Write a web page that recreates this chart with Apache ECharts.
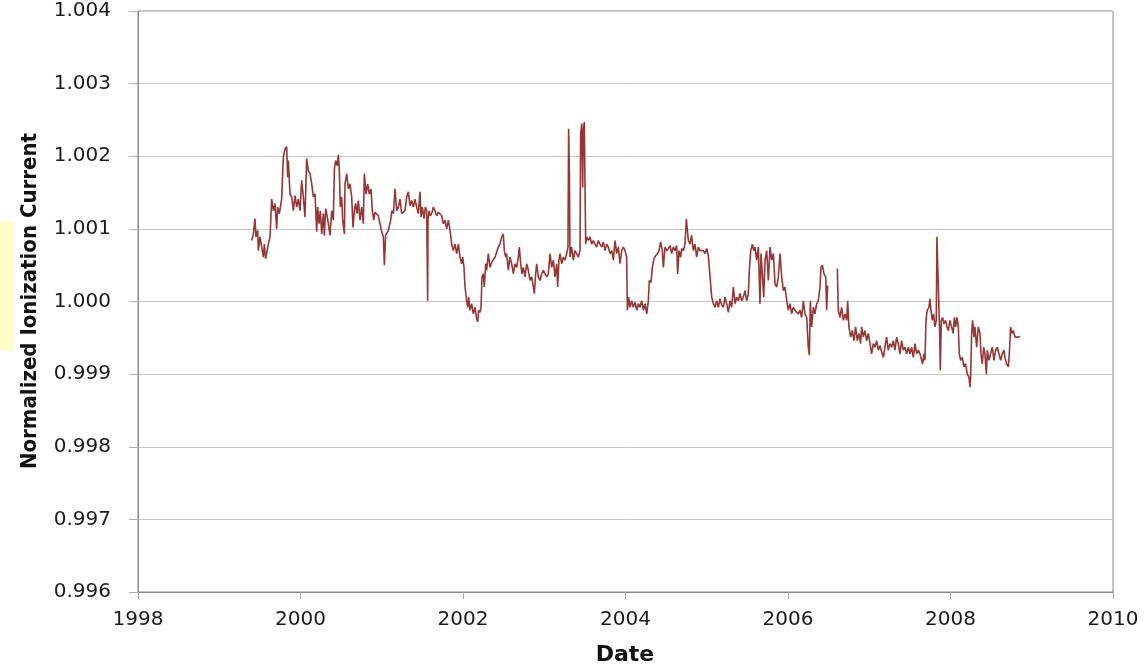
<!DOCTYPE html>
<html>
<head>
<meta charset="utf-8">
<script src="https://cdn.jsdelivr.net/npm/echarts@6/dist/echarts.min.js"></script>
<style>
  html, body { margin: 0; padding: 0; background: #ffffff; }
  #chart { width: 1146px; height: 667px; }
</style>
</head>
<body>
<div id="chart"></div>
<script>
// Normalized ionization current readings, [decimal year, normalized current]
const readings1999 = [
  [1999.399, 1.00084], [1999.420, 1.00093], [1999.440, 1.00114], [1999.452, 1.00089], [1999.473, 1.00098],
  [1999.481, 1.00070], [1999.502, 1.00089], [1999.522, 1.00075], [1999.543, 1.00061], [1999.555, 1.00079],
  [1999.571, 1.00059], [1999.588, 1.00057], [1999.604, 1.00079], [1999.625, 1.00089], [1999.645, 1.00141],
  [1999.666, 1.00125], [1999.686, 1.00135], [1999.707, 1.00100], [1999.719, 1.00130], [1999.740, 1.00121],
  [1999.768, 1.00141], [1999.789, 1.00199], [1999.809, 1.00210], [1999.830, 1.00213], [1999.842, 1.00171],
  [1999.850, 1.00194], [1999.871, 1.00148], [1999.891, 1.00144], [1999.912, 1.00125], [1999.932, 1.00146],
  [1999.953, 1.00130], [1999.973, 1.00141], [1999.994, 1.00125]
];
const readings2000 = [
  [2000.014, 1.00167], [2000.035, 1.00144], [2000.055, 1.00116], [2000.076, 1.00197], [2000.096, 1.00180],
  [2000.117, 1.00176], [2000.138, 1.00162], [2000.158, 1.00144], [2000.179, 1.00148], [2000.199, 1.00096],
  [2000.211, 1.00130], [2000.228, 1.00107], [2000.244, 1.00125], [2000.261, 1.00093], [2000.281, 1.00121],
  [2000.293, 1.00091], [2000.310, 1.00128], [2000.330, 1.00116], [2000.343, 1.00107], [2000.363, 1.00091],
  [2000.384, 1.00125], [2000.404, 1.00112], [2000.417, 1.00183], [2000.433, 1.00194], [2000.453, 1.00187],
  [2000.466, 1.00202], [2000.478, 1.00180], [2000.490, 1.00130], [2000.507, 1.00144], [2000.519, 1.00112],
  [2000.540, 1.00093], [2000.548, 1.00162], [2000.568, 1.00176], [2000.589, 1.00155], [2000.609, 1.00162],
  [2000.630, 1.00144], [2000.646, 1.00102], [2000.663, 1.00125], [2000.679, 1.00135], [2000.695, 1.00121],
  [2000.712, 1.00139], [2000.732, 1.00112], [2000.753, 1.00130], [2000.773, 1.00107], [2000.786, 1.00176],
  [2000.806, 1.00148], [2000.827, 1.00162], [2000.847, 1.00148], [2000.868, 1.00155], [2000.884, 1.00125],
  [2000.901, 1.00112], [2000.917, 1.00123], [2000.938, 1.00121], [2000.958, 1.00118], [2000.979, 1.00107],
  [2000.999, 1.00096]
];
const readings2001 = [
  [2001.020, 1.00089], [2001.032, 1.00050], [2001.048, 1.00091], [2001.081, 1.00098], [2001.110, 1.00112],
  [2001.122, 1.00125], [2001.143, 1.00121], [2001.163, 1.00155], [2001.184, 1.00125], [2001.204, 1.00130],
  [2001.225, 1.00141], [2001.245, 1.00121], [2001.266, 1.00123], [2001.286, 1.00125], [2001.307, 1.00144],
  [2001.327, 1.00151], [2001.348, 1.00132], [2001.368, 1.00139], [2001.389, 1.00130], [2001.409, 1.00141],
  [2001.430, 1.00130], [2001.450, 1.00121], [2001.471, 1.00151], [2001.483, 1.00116], [2001.500, 1.00130],
  [2001.520, 1.00114], [2001.537, 1.00130], [2001.553, 1.00125], [2001.565, 1.00001], [2001.569, 1.00112],
  [2001.582, 1.00125], [2001.598, 1.00118], [2001.614, 1.00121], [2001.635, 1.00130], [2001.655, 1.00125],
  [2001.676, 1.00118], [2001.697, 1.00123], [2001.717, 1.00121], [2001.738, 1.00118], [2001.758, 1.00107],
  [2001.779, 1.00112], [2001.799, 1.00100], [2001.820, 1.00112], [2001.840, 1.00098], [2001.861, 1.00079],
  [2001.881, 1.00070], [2001.902, 1.00079], [2001.922, 1.00066], [2001.943, 1.00079], [2001.963, 1.00061],
  [2001.984, 1.00052], [2001.996, 1.00061]
];
const readings2002 = [
  [2002.012, 1.00047], [2002.025, 1.00020], [2002.045, 1.00001], [2002.058, 0.99992], [2002.070, 1.00006],
  [2002.086, 0.99988], [2002.107, 0.99997], [2002.127, 0.99983], [2002.148, 0.99992], [2002.168, 0.99976],
  [2002.181, 0.99972], [2002.193, 0.99988], [2002.209, 0.99985], [2002.222, 0.99992], [2002.234, 1.00034],
  [2002.250, 1.00038], [2002.263, 1.00020], [2002.279, 1.00052], [2002.291, 1.00043], [2002.312, 1.00066],
  [2002.332, 1.00047], [2002.353, 1.00054], [2002.373, 1.00052], [2002.394, 1.00061], [2002.414, 1.00059],
  [2002.435, 1.00075], [2002.455, 1.00079], [2002.476, 1.00089], [2002.496, 1.00093], [2002.509, 1.00070],
  [2002.525, 1.00061], [2002.537, 1.00066], [2002.558, 1.00043], [2002.578, 1.00061], [2002.599, 1.00052],
  [2002.620, 1.00038], [2002.640, 1.00052], [2002.661, 1.00047], [2002.681, 1.00061], [2002.693, 1.00075],
  [2002.710, 1.00052], [2002.726, 1.00038], [2002.743, 1.00047], [2002.763, 1.00034], [2002.784, 1.00052],
  [2002.804, 1.00043], [2002.825, 1.00029], [2002.845, 1.00034], [2002.866, 1.00020], [2002.878, 1.00011],
  [2002.894, 1.00038], [2002.907, 1.00052], [2002.927, 1.00034], [2002.948, 1.00029], [2002.968, 1.00038],
  [2002.989, 1.00043]
];
const readings2003 = [
  [2003.009, 1.00038], [2003.030, 1.00034], [2003.050, 1.00038], [2003.071, 1.00066], [2003.091, 1.00047],
  [2003.112, 1.00057], [2003.132, 1.00034], [2003.153, 1.00052], [2003.165, 1.00020], [2003.181, 1.00057],
  [2003.194, 1.00066], [2003.214, 1.00052], [2003.235, 1.00061], [2003.255, 1.00057], [2003.276, 1.00066],
  [2003.292, 1.00075], [2003.300, 1.00238], [2003.309, 1.00180], [2003.317, 1.00061], [2003.337, 1.00075],
  [2003.358, 1.00057], [2003.378, 1.00070], [2003.399, 1.00066], [2003.419, 1.00061], [2003.440, 1.00070],
  [2003.448, 1.00231], [2003.461, 1.00245], [2003.473, 1.00157], [2003.481, 1.00236], [2003.493, 1.00247],
  [2003.510, 1.00079], [2003.522, 1.00089], [2003.543, 1.00084], [2003.563, 1.00089], [2003.584, 1.00079],
  [2003.604, 1.00084], [2003.625, 1.00079], [2003.645, 1.00075], [2003.666, 1.00084], [2003.686, 1.00079],
  [2003.707, 1.00075], [2003.727, 1.00082], [2003.748, 1.00070], [2003.768, 1.00079], [2003.789, 1.00075],
  [2003.809, 1.00066], [2003.830, 1.00070], [2003.850, 1.00057], [2003.871, 1.00084], [2003.891, 1.00066],
  [2003.912, 1.00075], [2003.932, 1.00052], [2003.953, 1.00070], [2003.973, 1.00075], [2003.994, 1.00070]
];
const readings2004 = [
  [2004.014, 1.00061], [2004.023, 0.99988], [2004.039, 1.00006], [2004.055, 0.99992], [2004.076, 1.00001],
  [2004.096, 0.99992], [2004.117, 0.99999], [2004.138, 0.99988], [2004.158, 0.99997], [2004.179, 0.99992],
  [2004.199, 1.00001], [2004.220, 0.99988], [2004.240, 0.99997], [2004.261, 0.99983], [2004.281, 1.00001],
  [2004.293, 1.00029], [2004.314, 1.00026], [2004.330, 1.00047], [2004.351, 1.00059], [2004.371, 1.00063],
  [2004.396, 1.00066], [2004.412, 1.00070], [2004.433, 1.00082], [2004.453, 1.00070], [2004.466, 1.00047],
  [2004.486, 1.00075], [2004.507, 1.00070], [2004.527, 1.00073], [2004.548, 1.00077], [2004.568, 1.00066],
  [2004.589, 1.00075], [2004.609, 1.00070], [2004.630, 1.00077], [2004.642, 1.00038], [2004.659, 1.00070],
  [2004.679, 1.00061], [2004.691, 1.00073], [2004.712, 1.00070], [2004.732, 1.00079], [2004.749, 1.00114],
  [2004.761, 1.00116], [2004.773, 1.00084], [2004.794, 1.00079], [2004.814, 1.00091], [2004.835, 1.00070],
  [2004.855, 1.00079], [2004.876, 1.00061], [2004.896, 1.00075], [2004.917, 1.00070], [2004.938, 1.00068],
  [2004.958, 1.00070], [2004.979, 1.00066], [2004.999, 1.00073]
];
const readings2005 = [
  [2005.020, 1.00063], [2005.040, 1.00034], [2005.061, 1.00006], [2005.081, 0.99997], [2005.102, 0.99992],
  [2005.122, 1.00001], [2005.143, 0.99992], [2005.163, 1.00004], [2005.184, 0.99995], [2005.204, 0.99992],
  [2005.225, 1.00006], [2005.245, 0.99997], [2005.266, 0.99985], [2005.286, 1.00001], [2005.307, 0.99992],
  [2005.327, 1.00020], [2005.348, 0.99997], [2005.368, 1.00006], [2005.389, 1.00001], [2005.409, 1.00011],
  [2005.430, 1.00001], [2005.450, 1.00006], [2005.471, 1.00015], [2005.491, 1.00001], [2005.512, 1.00011],
  [2005.524, 1.00043], [2005.541, 1.00070], [2005.561, 1.00079], [2005.578, 1.00070], [2005.594, 1.00075],
  [2005.614, 1.00057], [2005.635, 1.00075], [2005.655, 0.99997], [2005.668, 1.00066], [2005.684, 1.00038],
  [2005.701, 1.00006], [2005.717, 1.00057], [2005.738, 1.00070], [2005.758, 1.00029], [2005.779, 1.00075],
  [2005.799, 1.00057], [2005.820, 1.00066], [2005.840, 1.00024], [2005.861, 1.00020], [2005.881, 1.00034],
  [2005.902, 1.00066], [2005.922, 1.00034], [2005.943, 1.00015], [2005.963, 1.00020], [2005.984, 1.00001]
];
// null marks the break in the record during 2006
const readings2006 = [
  [2006.004, 0.99988], [2006.025, 0.99997], [2006.045, 0.99983], [2006.066, 0.99992], [2006.086, 0.99988],
  [2006.107, 0.99990], [2006.127, 0.99983], [2006.148, 0.99988], [2006.168, 0.99978], [2006.189, 1.00001],
  [2006.209, 0.99983], [2006.230, 0.99978], [2006.250, 0.99937], [2006.263, 0.99926], [2006.275, 1.00001],
  [2006.291, 0.99965], [2006.312, 0.99992], [2006.332, 0.99983], [2006.353, 0.99997], [2006.373, 1.00001],
  [2006.394, 1.00020], [2006.406, 1.00047], [2006.423, 1.00050], [2006.443, 1.00038], [2006.464, 1.00034],
  [2006.476, 0.99988], [2006.488, 1.00022], [2006.550, null],
  [2006.607, 1.00045], [2006.619, 0.99988], [2006.640, 0.99978], [2006.660, 0.99992], [2006.681, 0.99974],
  [2006.701, 0.99983], [2006.722, 0.99974], [2006.734, 1.00001], [2006.750, 0.99965], [2006.771, 0.99951],
  [2006.791, 0.99960], [2006.812, 0.99946], [2006.832, 0.99965], [2006.853, 0.99946], [2006.873, 0.99956],
  [2006.894, 0.99942], [2006.906, 0.99965], [2006.927, 0.99951], [2006.947, 0.99960], [2006.968, 0.99946],
  [2006.988, 0.99956]
];
const readings2007 = [
  [2007.009, 0.99942], [2007.029, 0.99928], [2007.050, 0.99942], [2007.070, 0.99937], [2007.091, 0.99946],
  [2007.111, 0.99933], [2007.132, 0.99939], [2007.152, 0.99937], [2007.173, 0.99923], [2007.193, 0.99937],
  [2007.214, 0.99951], [2007.234, 0.99933], [2007.255, 0.99942], [2007.275, 0.99937], [2007.296, 0.99946],
  [2007.316, 0.99933], [2007.337, 0.99951], [2007.357, 0.99942], [2007.378, 0.99928], [2007.398, 0.99946],
  [2007.419, 0.99933], [2007.440, 0.99937], [2007.460, 0.99928], [2007.481, 0.99937], [2007.501, 0.99928],
  [2007.522, 0.99937], [2007.542, 0.99923], [2007.563, 0.99942], [2007.583, 0.99928], [2007.604, 0.99933],
  [2007.624, 0.99928], [2007.645, 0.99919], [2007.657, 0.99914], [2007.673, 0.99928], [2007.686, 0.99919],
  [2007.698, 0.99974], [2007.714, 0.99988], [2007.735, 0.99992], [2007.747, 1.00004], [2007.759, 0.99988],
  [2007.776, 0.99974], [2007.792, 0.99983], [2007.809, 0.99965], [2007.825, 0.99974], [2007.833, 1.00089],
  [2007.850, 1.00020], [2007.866, 0.99960], [2007.874, 0.99905], [2007.887, 0.99974], [2007.903, 0.99978],
  [2007.920, 0.99969], [2007.940, 0.99974], [2007.957, 0.99965], [2007.973, 0.99960], [2007.993, 0.99974]
];
const readings2008 = [
  [2008.014, 0.99965], [2008.034, 0.99956], [2008.047, 0.99978], [2008.063, 0.99965], [2008.080, 0.99978],
  [2008.096, 0.99965], [2008.108, 0.99928], [2008.125, 0.99919], [2008.145, 0.99923], [2008.166, 0.99910],
  [2008.186, 0.99914], [2008.207, 0.99900], [2008.227, 0.99896], [2008.240, 0.99882], [2008.248, 0.99896],
  [2008.260, 0.99956], [2008.272, 0.99974], [2008.289, 0.99951], [2008.301, 0.99965], [2008.322, 0.99937],
  [2008.342, 0.99965], [2008.363, 0.99956], [2008.375, 0.99928], [2008.391, 0.99914], [2008.408, 0.99937],
  [2008.424, 0.99928], [2008.441, 0.99900], [2008.453, 0.99933], [2008.473, 0.99919], [2008.494, 0.99928],
  [2008.514, 0.99937], [2008.535, 0.99919], [2008.555, 0.99933], [2008.576, 0.99937], [2008.596, 0.99928],
  [2008.617, 0.99919], [2008.637, 0.99928], [2008.658, 0.99933], [2008.670, 0.99923], [2008.691, 0.99914],
  [2008.712, 0.99910], [2008.724, 0.99928], [2008.740, 0.99965], [2008.757, 0.99956], [2008.773, 0.99960],
  [2008.794, 0.99951], [2008.814, 0.99953], [2008.835, 0.99951], [2008.855, 0.99952]
];

// Axis ranges and tick steps
const yearTicks = [1998, 2010, 2];          // min, max, step
const currentTicks = [0.996, 1.004, 0.001]; // min, max, step

const xTitle = 'Date';
const yTitle = 'Normalized Ionization Current';

const series = [].concat(
  readings1999, readings2000, readings2001, readings2002, readings2003,
  readings2004, readings2005, readings2006, readings2007, readings2008
).map(function (p) { return [p[0], p[1] === null ? '-' : p[1]]; });

const chart = echarts.init(document.getElementById('chart'), null, { renderer: 'canvas' });

const labelFont = "'DejaVu Sans', Verdana, sans-serif";

chart.setOption({
  animation: false,
  backgroundColor: '#ffffff',
  grid: {
    left: 138, right: 33, top: 11, bottom: 75,
    show: true, borderColor: '#8a8a8a', borderWidth: 1, backgroundColor: 'transparent'
  },
  xAxis: {
    type: 'value',
    min: yearTicks[0], max: yearTicks[1], interval: yearTicks[2],
    axisLine: { show: true, lineStyle: { color: '#8a8a8a', width: 1 } },
    axisTick: { show: true, length: 7, lineStyle: { color: '#a8a8a8' } },
    splitLine: { show: false },
    axisLabel: {
      margin: 18, color: '#1a1a1a', fontSize: 20, fontFamily: labelFont,
      formatter: function (v) { return String(Math.round(v)); }
    }
  },
  yAxis: {
    type: 'value',
    min: currentTicks[0], max: currentTicks[1], interval: currentTicks[2],
    axisLine: { show: true, lineStyle: { color: '#8a8a8a', width: 1 } },
    axisTick: { show: true, length: 9, lineStyle: { color: '#b0b0b0' } },
    splitLine: { show: true, lineStyle: { color: '#c8c8c8', width: 1 } },
    axisLabel: {
      margin: 27, color: '#1a1a1a', fontSize: 20, fontFamily: labelFont,
      formatter: function (v) { return v.toFixed(3); }
    }
  },
  graphic: [
    {
      type: 'rect', z: -1, silent: true,
      shape: { x: 0, y: 221, width: 14, height: 130 },
      style: { fill: '#fefec6' }
    },
    {
      type: 'text', silent: true,
      x: 30, y: 301, rotation: Math.PI / 2,
      style: {
        text: yTitle, align: 'center', verticalAlign: 'middle',
        fill: '#111111', fontWeight: 'bold', fontSize: 22,
        fontFamily: "'Liberation Sans Narrow', 'DejaVu Sans Condensed', 'Arial Narrow', sans-serif"
      }
    },
    {
      type: 'text', silent: true,
      x: 625, y: 655,
      style: {
        text: xTitle, align: 'center', verticalAlign: 'middle',
        fill: '#111111', fontWeight: 'bold', fontSize: 22, fontFamily: labelFont
      }
    }
  ],
  series: [{
    type: 'line',
    data: series,
    showSymbol: false,
    connectNulls: false,
    lineStyle: { color: '#953735', width: 1.6 },
    itemStyle: { color: '#953735' }
  }]
});
</script>
</body>
</html>
